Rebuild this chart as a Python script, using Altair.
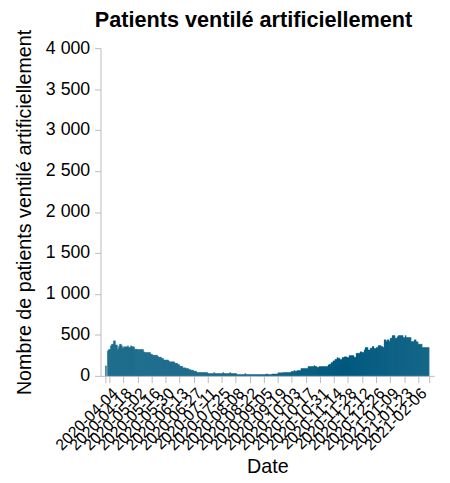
import altair as alt
import pandas as pd

start_date = "2020-03-31"

# daily number of ventilated patients, None = missing day
values = [
    122, None, 305, 322, 322, 366, 387, 387, 427, 427,
    378, 378, 326, 358, 387, 387, 366, 338, 354, 354,
    354, 354, 366, 346, 346, 366, 358, 354, 354, 326,
    326, 326, 322, 322, 322, 322, 322, 322, 293, 285,
    285, 285, 285, 285, 285, 264, 264, 252, 252, 252,
    252, 252, 236, 228, 228, 228, 212, 212, 195, 195,
    195, 195, 195, 179, 171, 171, 171, 171, 171, 155,
    155, 155, 138, 138, 118, 118, 118, 98, 98, 98,
    90, 90, 90, 77, 77, 69, 69, 69, 57, 57,
    57, 41, 41, 41, 41, 41, 41, 41, 41, 41,
    41, 41, 28, 28, 28, 28, 28, 28, 41, 28,
    28, 28, 28, 28, 28, 28, 28, 41, 28, 28,
    28, 28, 28, 28, 41, 28, 28, 28, 28, 28,
    28, 16, 16, 16, 16, 16, 16, 16, 16, 28,
    16, 16, 16, 16, 16, 16, 16, 16, 16, 16,
    16, 16, 16, 16, 16, 16, 16, 16, 16, 16,
    24, 24, 16, 16, 16, 16, 24, 24, 24, 24,
    24, 24, 37, 37, 37, 37, 37, 41, 41, 41,
    41, 41, 41, 41, 41, 53, 53, 53, 65, 57,
    57, 65, 65, 65, 65, 90, 90, 90, 90, 90,
    90, 90, 114, 114, 114, 114, 114, 114, 126, 114,
    114, 106, 106, 114, 114, 114, 114, 114, 114, 114,
    114, 114, 134, 142, 142, 163, 163, 183, 183, 204,
    204, 224, 216, 216, 200, 200, 224, 224, 232, 232,
    232, 224, 224, 248, 248, 248, 248, 248, 228, 228,
    277, 277, 277, 277, 293, 293, 285, 285, 317, 346,
    346, 346, 317, 317, 338, 338, 358, 358, 334, 334,
    346, 346, 370, 370, 370, 358, 358, 346, 440, 440,
    423, 440, 440, 419, 460, 460, 492, 492, 492, 460,
    460, 476, 492, 492, 492, 492, 492, 468, 468, 492,
    468, 468, 468, 468, 468, 419, 419, 419, 440, 440,
    415, 415, 387, 387, 387, 387, 346, 346, 346, 346,
    346, 346, 346,
]

tick_start = "2020-04-04"
tick_end = "2021-02-06"
y_ticks = [0, 500, 1000, 1500, 2000, 2500, 3000, 3500, 4000]

dates = pd.date_range(start_date, periods=len(values), freq="D")
ends = dates + pd.Timedelta(days=1)
df = pd.DataFrame({
    "date": dates.strftime("%Y-%m-%d"),
    "date_end": ends.strftime("%Y-%m-%d"),
    "value": values,
}).dropna()

tick_dates = pd.date_range(tick_start, tick_end, freq="14D")
# labelled ticks every two weeks, plus unlabelled ticks at both ends of the axis
all_ticks = [dates[0]] + list(tick_dates) + [ends[-1]]
tick_values = [alt.DateTime(year=d.year, month=d.month, date=d.day, utc=True) for d in all_ticks]

lo_ms = int(pd.Timestamp(tick_start).value // 10**6)
hi_ms = int(pd.Timestamp(tick_end).value // 10**6)
x_label_expr = (
    f"(datum.value < {lo_ms} || datum.value > {hi_ms}) ? '' : "
    "utcFormat(datum.value, '%Y-%m-%d')"
)

bars = alt.Chart(df).mark_bar(
    orient="vertical", color="#005b7f", stroke="#005b7f", strokeWidth=0.3
).encode(
    x=alt.X(
        "date:T",
        title="Date",
        scale=alt.Scale(type="utc"),
        axis=alt.Axis(
            values=tick_values,
            labelExpr=x_label_expr,
            labelAngle=-45,
            labelOverlap=False,
            labelFlush=False,
            labelFontSize=16,
            grid=False,
            tickSize=7,
        ),
    ),
    x2="date_end:T",
    y=alt.Y(
        "value:Q",
        title="Nombre de patients ventilé artificiellement",
        scale=alt.Scale(domain=[0, 4000]),
        axis=alt.Axis(
            values=y_ticks,
            labelExpr="replace(format(datum.value, ','), ',', ' ')",
            labelFontSize=18,
            labelPadding=5,
            titlePadding=11,
            grid=False,
            tickSize=6,
        ),
    ),
).properties(
    width=339,
    height=333,
    autosize=alt.AutoSizeParams(type="none"),
    padding={"left": 94, "top": 37, "right": 8, "bottom": 100},
    title=alt.TitleParams(
        "Patients ventilé artificiellement",
        fontSize=22,
        fontWeight="bold",
        color="black",
        dx=-14,
        dy=7,
    ),
)

chart = bars.configure(font="Liberation Sans").configure_axis(
    labelColor="black",
    titleColor="black",
    titleFontSize=20,
    titleFontWeight="normal",
    domainColor="#bbbbbb",
    tickColor="#bbbbbb",
).configure_view(stroke=None)

chart.save("out.html", embed_options={"renderer": "svg", "actions": False})
